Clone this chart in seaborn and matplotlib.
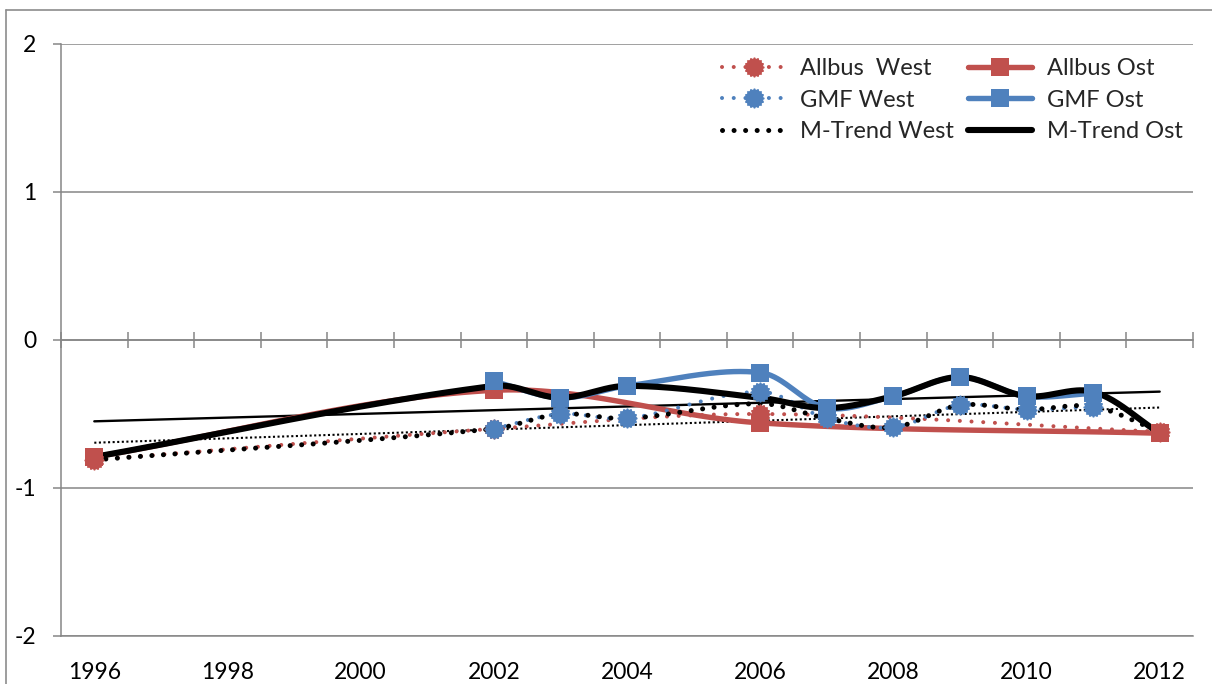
import numpy as np
import matplotlib
matplotlib.use("Agg")
import matplotlib.pyplot as plt
import seaborn as sns
from matplotlib.path import Path
from matplotlib.lines import Line2D

# ---------------- data ----------------
years = list(range(1996, 2013))
label_years = [1996, 1998, 2000, 2002, 2004, 2006, 2008, 2010, 2012]
y_ticks = [-2, -1, 0, 1, 2]

allbus_years = [1996, 2002, 2006, 2012]
allbus_west = [-0.81, -0.60, -0.50, -0.62]
allbus_ost = [-0.79, -0.34, -0.56, -0.63]

gmf_years = [2002, 2003, 2004, 2006, 2007, 2008, 2009, 2010, 2011]
gmf_west = [-0.60, -0.50, -0.53, -0.35, -0.53, -0.59, -0.44, -0.47, -0.45]
gmf_ost = [-0.28, -0.39, -0.31, -0.22, -0.46, -0.38, -0.25, -0.38, -0.36]

mtrend_years = [1996, 2002, 2003, 2004, 2006, 2007, 2008, 2009, 2010, 2011, 2012]
mtrend_west = [-0.81, -0.60, -0.50, -0.53, -0.43, -0.53, -0.59, -0.44, -0.47, -0.45, -0.62]
mtrend_ost = [-0.79, -0.31, -0.39, -0.31, -0.39, -0.46, -0.38, -0.25, -0.38, -0.35, -0.63]

labels = ["Allbus  West", "Allbus Ost", "GMF West", "GMF Ost", "M-Trend West", "M-Trend Ost"]

# ---------------- style ----------------
RED = "#C0504D"
BLUE = "#4F81BD"
GRID = "#868686"
BORDER = "#8C8C8C"

sns.set_theme(style="white")
plt.rcParams["font.family"] = ["Lato", "DejaVu Sans"]
plt.rcParams["axes.unicode_minus"] = False

W, H = 1212, 684
fig = plt.figure(figsize=(W / 100, H / 100), dpi=100)
ax = fig.add_axes([61 / W, 1 - 636 / H, (1193 - 61) / W, (636 - 44) / H])

# screen scale (px per data unit) used for the smoothing geometry
SX, SY = (1193 - 61) / 17.0, (636 - 44) / 4.0


def smooth(xs, ys, n=40):
    """Excel-like smoothed line: Bezier through the points, tangents scaled by chord length."""
    P = np.column_stack([np.asarray(xs, float) * SX, np.asarray(ys, float) * SY])
    m = len(P)
    d = np.linalg.norm(np.diff(P, axis=0), axis=1)
    tang = np.zeros_like(P)
    for i in range(m):
        a = P[i - 1] if i > 0 else P[i]
        b = P[i + 1] if i < m - 1 else P[i]
        la = d[i - 1] if i > 0 else 0.0
        lb = d[i] if i < m - 1 else 0.0
        tang[i] = (b - a) / (la + lb)
    out = [P[0]]
    t = np.linspace(0, 1, n)[1:, None]
    for i in range(m - 1):
        p1, p2 = P[i], P[i + 1]
        c1 = p1 + tang[i] * d[i] / 3
        c2 = p2 - tang[i + 1] * d[i] / 3
        seg = (1 - t) ** 3 * p1 + 3 * (1 - t) ** 2 * t * c1 + 3 * (1 - t) * t ** 2 * c2 + t ** 3 * p2
        out.extend(seg)
    out = np.array(out)
    return out[:, 0] / SX, out[:, 1] / SY


# gear-like round marker (Excel circle marker with dotted border)
ang = np.linspace(0, 2 * np.pi, 97)
rad = 1 + 0.12 * (np.cos(16 * ang) > 0)
gear = Path(np.column_stack([rad * np.cos(ang), rad * np.sin(ang)]), closed=True)

DOT_COL = dict(lw=2.9, linestyle=(0, (0.01, 2.9)), dash_capstyle="round")
DOT_BLK = dict(lw=3.6, linestyle=(0, (0.01, 2.3)), dash_capstyle="round")


def draw(xs, ys, color, line_kw, marker=None, msize=None):
    sx, sy = smooth(xs, ys)
    sns.lineplot(x=sx, y=sy, sort=False, estimator=None, ax=ax, color=color,
                 solid_capstyle="round", **line_kw)
    if marker is not None:
        sns.scatterplot(x=xs, y=ys, ax=ax, color=color, marker=marker,
                        s=msize ** 2, linewidth=0, zorder=3)


# trend lines (linear fits of the M-Trend series)
span = np.array([years[0], years[-1]], float)
fw = np.polyfit(mtrend_years, mtrend_west, 1)
fo = np.polyfit(mtrend_years, mtrend_ost, 1)
sns.lineplot(x=span, y=np.polyval(fw, span), ax=ax, color="black", lw=1.5,
             linestyle=(0, (1, 1.2)), estimator=None, sort=False)
sns.lineplot(x=span, y=np.polyval(fo, span), ax=ax, color="black", lw=1.7,
             estimator=None, sort=False)

draw(allbus_years, allbus_west, RED, DOT_COL, gear, 14.5)
draw(allbus_years, allbus_ost, RED, dict(lw=3.9), "s", 13)
draw(gmf_years, gmf_west, BLUE, DOT_COL, gear, 14.5)
draw(gmf_years, gmf_ost, BLUE, dict(lw=3.9), "s", 13)
draw(mtrend_years, mtrend_west, "black", DOT_BLK)
draw(mtrend_years, mtrend_ost, "black", dict(lw=4.4))

# ---------------- axes ----------------
ax.set_xlim(years[0] - 0.5, years[-1] + 0.5)
ax.set_ylim(y_ticks[0], y_ticks[-1])
ax.set_yticks(y_ticks)
ax.set_yticklabels([str(v) for v in y_ticks])
ax.yaxis.grid(True, color=GRID, lw=1.1)
ax.xaxis.grid(False)
ax.set_xlabel("")
ax.set_ylabel("")
for s in ["top", "right"]:
    ax.spines[s].set_visible(False)
ax.spines["left"].set_color(GRID)
ax.spines["left"].set_linewidth(1.1)
ax.spines["bottom"].set_position(("data", 0))
ax.spines["bottom"].set_color(GRID)
ax.spines["bottom"].set_linewidth(1.1)

bounds = [y - 0.5 for y in years] + [years[-1] + 0.5]
ax.set_xticks(bounds)
ax.set_xticklabels([""] * len(bounds))
ax.tick_params(axis="x", direction="inout", length=11.5, width=1.1, color=GRID, bottom=True)
ax.tick_params(axis="y", direction="out", length=5.8, width=1.1, color=GRID, left=True,
               pad=12, labelsize=16.5, labelcolor="black")

sec = ax.secondary_xaxis(0)
sec.set_xticks(label_years)
sec.set_xticklabels([str(y) for y in label_years])
sec.tick_params(length=0, pad=19, labelsize=16.5, labelcolor="black")
sec.spines["bottom"].set_color(GRID)
sec.spines["bottom"].set_linewidth(1.1)

# ---------------- legend ----------------
handles = [
    Line2D([], [], color=RED, marker=gear, markersize=14.5, markeredgewidth=0, **DOT_COL),
    Line2D([], [], color=BLUE, marker=gear, markersize=14.5, markeredgewidth=0, **DOT_COL),
    Line2D([], [], color="black", **DOT_BLK),
    Line2D([], [], color=RED, lw=3.9, marker="s", markersize=13, markeredgewidth=0),
    Line2D([], [], color=BLUE, lw=3.9, marker="s", markersize=13, markeredgewidth=0),
    Line2D([], [], color="black", lw=4.4, solid_capstyle="round"),
]
leg_labels = [labels[0], labels[2], labels[4], labels[1], labels[3], labels[5]]
fig.legend(handles, leg_labels, loc="upper left", bbox_to_anchor=(722 / W, 1 - 58 / H),
           bbox_transform=fig.transFigure, ncol=2, frameon=False, fontsize=17,
           borderpad=0, borderaxespad=0, handlelength=2.7, handletextpad=0.62,
           columnspacing=0.6, labelspacing=0.45)

# chart-area border (cropped on right and bottom)
fig.add_artist(Line2D([6 / W, 1.0], [1 - 10 / H, 1 - 10 / H], transform=fig.transFigure,
                      color=BORDER, lw=1.2))
fig.add_artist(Line2D([6 / W, 6 / W], [0.0, 1 - 10 / H], transform=fig.transFigure,
                      color=BORDER, lw=1.2))

fig.savefig("out.png", dpi=100)
